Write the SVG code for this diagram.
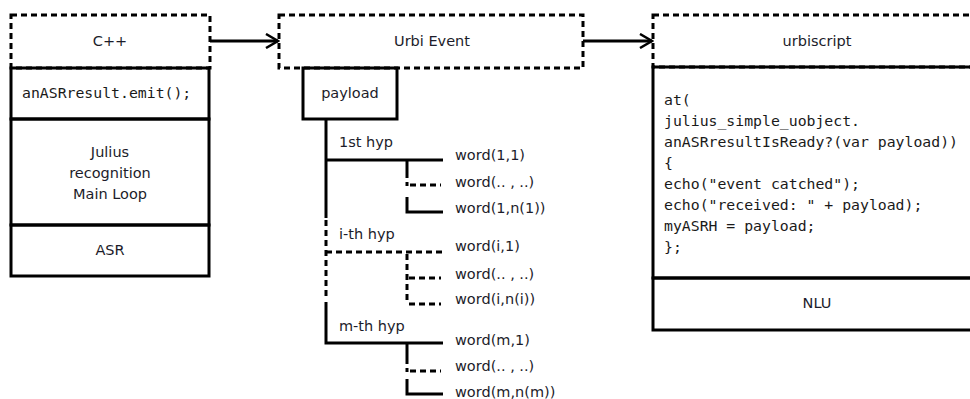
<svg xmlns="http://www.w3.org/2000/svg" width="970" height="399" viewBox="0 0 970 399">
<defs>
<style>
.solid{fill:none;stroke:#000;stroke-width:3}
.dash{fill:none;stroke:#000;stroke-width:3;stroke-dasharray:6 4}
.ln{fill:none;stroke:#000;stroke-width:3}
.dl{fill:none;stroke:#000;stroke-width:3;stroke-dasharray:6 4}
.sans{font-family:"DejaVu Sans","Liberation Sans",sans-serif;font-size:14.5px;fill:#1c1c2a}
.mono{font-family:"DejaVu Sans Mono","Liberation Mono",monospace;font-size:14.8px;fill:#1a1a1a}
.mid{text-anchor:middle}
</style>
<marker id="arr" markerWidth="16" markerHeight="16" viewBox="0 0 16 16" refX="14" refY="8" orient="auto" markerUnits="userSpaceOnUse">
<path d="M2,1 L14,8 L2,15" fill="none" stroke="#000" stroke-width="2.5"/>
</marker>
</defs>
<rect width="970" height="399" fill="#fff"/>

<g id="cpp">
<rect class="dash" x="11" y="15" width="199" height="53"/>
<text class="sans mid" x="110" y="46">C++</text>
</g>
<g id="emit">
<rect class="solid" x="11" y="68" width="198" height="51"/>
<text class="mono" x="22" y="98">anASRresult.emit();</text>
</g>
<g id="julius">
<rect class="solid" x="11" y="119" width="198" height="106"/>
<text class="sans mid" x="110" y="157">Julius</text>
<text class="sans mid" x="110" y="178">recognition</text>
<text class="sans mid" x="110" y="199">Main Loop</text>
</g>
<g id="asr">
<rect class="solid" x="11" y="225" width="198" height="51"/>
<text class="sans mid" x="110" y="255">ASR</text>
</g>

<g id="urbievent">
<rect class="dash" x="279" y="15" width="304" height="53"/>
<text class="sans mid" x="432" y="46">Urbi Event</text>
</g>
<g id="payload">
<rect class="solid" x="303" y="68" width="94" height="51"/>
<text class="sans mid" x="350" y="98">payload</text>
</g>

<g id="urbiscript">
<rect class="dash" x="653" y="15" width="330" height="52"/>
<text class="sans mid" x="817" y="46">urbiscript</text>
</g>
<g id="code">
<rect class="solid" x="653" y="67" width="330" height="211"/>
<text class="mono" x="664" y="105">at(</text>
<text class="mono" x="664" y="126">julius_simple_uobject.</text>
<text class="mono" x="664" y="147">anASRresultIsReady?(var payload))</text>
<text class="mono" x="664" y="168">{</text>
<text class="mono" x="664" y="189">echo("event catched");</text>
<text class="mono" x="664" y="210">echo("received: " + payload);</text>
<text class="mono" x="664" y="231">myASRH = payload;</text>
<text class="mono" x="664" y="252">};</text>
</g>
<g id="nlu">
<rect class="solid" x="653" y="278" width="330" height="52"/>
<text class="sans mid" x="817" y="308">NLU</text>
</g>

<g id="labels">
<text class="sans" x="339" y="147">1st hyp</text>
<text class="sans" x="339" y="239">i-th hyp</text>
<text class="sans" x="339" y="331">m-th hyp</text>
<text class="sans" x="455" y="160">word(1,1)</text>
<text class="sans" x="455" y="187">word(.. , ..)</text>
<text class="sans" x="455" y="213">word(1,n(1))</text>
<text class="sans" x="455" y="251">word(i,1)</text>
<text class="sans" x="455" y="279">word(.. , ..)</text>
<text class="sans" x="455" y="304">word(i,n(i))</text>
<text class="sans" x="455" y="345">word(m,1)</text>
<text class="sans" x="455" y="371">word(.. , ..)</text>
<text class="sans" x="455" y="397">word(m,n(m))</text>
</g>

<g id="connectors">
<line class="ln" x1="210" y1="41" x2="278" y2="41" stroke-width="2.5" marker-end="url(#arr)"/>
<line class="ln" x1="583" y1="41" x2="652" y2="41" stroke-width="2.5" marker-end="url(#arr)"/>
<!-- trunk -->
<line class="ln" x1="326" y1="119" x2="326" y2="218"/>
<line class="dl" x1="326" y1="220" x2="326" y2="300"/>
<path class="ln" d="M326,302 V343 H443"/>
<!-- 1st hyp -->
<line class="ln" x1="326" y1="160" x2="443" y2="160"/>
<line class="ln" x1="407" y1="160" x2="407" y2="178"/>
<line class="ln" x1="407" y1="182" x2="407" y2="186"/>
<line class="dl" x1="410" y1="185" x2="441" y2="185"/>
<path class="ln" d="M407,197 V212 H443"/>
<!-- i-th hyp -->
<line class="dl" x1="326" y1="252" x2="443" y2="252"/>
<line class="dl" x1="407" y1="254" x2="407" y2="304"/>
<line class="dl" x1="409" y1="278" x2="441" y2="278"/>
<line class="dl" x1="409" y1="304" x2="441" y2="304"/>
<!-- m-th hyp -->
<line class="ln" x1="407" y1="343" x2="407" y2="364"/>
<line class="ln" x1="407" y1="368" x2="407" y2="372"/>
<line class="dl" x1="410" y1="371" x2="441" y2="371"/>
<path class="ln" d="M407,379 V394 H443"/>
</g>
</svg>
